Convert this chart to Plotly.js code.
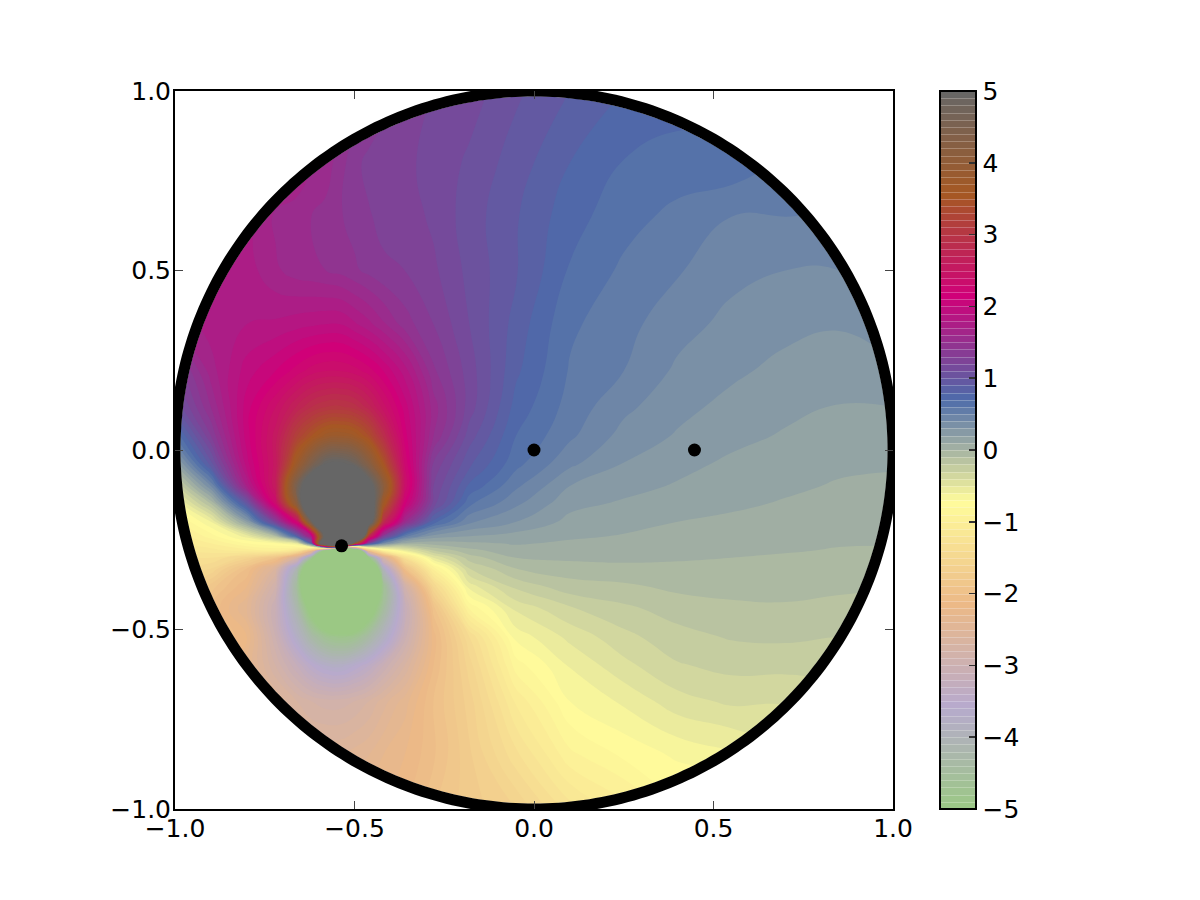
<!DOCTYPE html>
<html>
<head>
<meta charset="utf-8">
<script src="https://cdn.plot.ly/plotly-3.0.1.min.js"></script>
<style>html,body{margin:0;padding:0;background:#fff}</style>
</head>
<body>
<div id="chart" style="width:1200px;height:900px"></div>
<script>
const xNodes = [-1,-.9,-.8,-.72,-.66,-.62,-.58,-.54,-.5,-.46,-.42,-.36,-.28,-.18,-.05,.1,.25,.4,.55,.7,.85,1];
const yNodes = [-1,-.85,-.7,-.6,-.52,-.44,-.38,-.33,-.3,-.28,-.26,-.24,-.2,-.15,-.1,-.04,.04,.12,.22,.35,.5,.65,.8,1];
const fieldRows = [
[-2.3,-2.3,-2.3,-2.3,-2.3,-2.3,-2.3,-2.3,-2.3,-2.25,-2.2,-2.1,-1.9,-1.75,-1.6,-1.25,-1.05,-.85,-.85,-.7,-.5,-.45],
[-2.3,-2.4,-2.45,-2.5,-2.5,-2.5,-2.5,-2.5,-2.45,-2.4,-2.3,-2.2,-2.02,-1.72,-1.33,-.93,-.78,-.68,-.62,-.52,-.45,-.4],
[-1.9,-2,-2.2,-2.5,-2.7,-2.8,-2.85,-2.85,-2.8,-2.7,-2.55,-2.35,-2,-1.65,-1.08,-.7,-.58,-.44,-.38,-.39,-.35,-.35],
[-1.7,-1.9,-2.3,-2.8,-3.2,-3.5,-3.7,-3.75,-3.6,-3.4,-3.1,-2.7,-2.1,-1.55,-.85,-.59,-.43,-.31,-.27,-.27,-.27,-.27],
[-1.7,-1.9,-2.2,-3,-3.75,-4.3,-4.7,-4.85,-4.75,-4.35,-3.85,-3.05,-2.15,-1.4,-.66,-.47,-.33,-.235,-.19,-.18,-.2,-.2],
[-1.7,-2,-2.4,-3.1,-4.2,-5.3,-6.3,-6.76,-6.45,-5.5,-4.5,-3.2,-1.95,-.88,-.47,-.31,-.22,-.155,-.125,-.115,-.13,-.14],
[-1.6,-1.85,-2.2,-2.9,-4.5,-6.4,-8.9,-10.4,-9.4,-6.8,-4.7,-2.9,-1.5,-.55,-.27,-.14,-.12,-.075,-.06,-.06,-.08,-.09],
[-1.4,-1.5,-2,-2.6,-4.1,-6.2,-12,-12,-12,-6.9,-3.9,-2,-.95,-.3,-.1,-.05,-.025,-.02,-.02,-.03,-.05,-.06],
[-1.3,-1.3,-1.55,-1.9,-2.7,-4.6,-10,-12,-12,-5,-2.7,-1.3,-.5,-.15,0,.023,.023,.01,0,-.01,-.03,-.04],
[-1.2,-1.15,-1.05,-1,-1.2,-2,-5.5,-12,-7.5,-1.9,-.95,-.55,-.2,-.03,.06,.054,.047,.027,.015,.006,-.005,-.01],
[-1.15,-1,-.8,-.7,-.5,.8,7.9,12,3.9,1.1,.4,.05,.05,.08,.11,.085,.07,.045,.03,.02,.005,.005],
[-1.1,-.85,-.55,-.1,.85,1.8,5.5,12,9,2.9,1.3,.55,.25,.2,.16,.115,.094,.064,.046,.03,.016,.015],
[-.95,-.6,.2,1.25,2.3,4.8,9,12,10,5.6,2.9,1.55,.75,.42,.3,.17,.13,.1,.077,.058,.037,.03],
[-.7,-.1,.95,2.3,4.2,6.5,9,9.8,8.2,5.8,3.7,2.15,1.15,.62,.42,.23,.185,.15,.12,.09,.064,.055],
[-.35,.4,1.7,2.6,4.6,5.7,6.6,6.9,6.3,5.3,4.2,2.4,1.2,.78,.52,.3,.235,.19,.155,.12,.09,.08],
[.1,.95,1.95,2.55,3.8,4.5,5.05,5.12,4.9,4.3,3.55,2.3,1.28,.92,.63,.42,.294,.23,.18,.155,.12,.11],
[.6,1.3,2.05,2.55,3.2,3.5,3.75,3.8,3.7,3.4,2.9,2.15,1.5,1.05,.7,.52,.365,.29,.23,.19,.157,.14],
[1,1.5,2.05,2.4,2.72,2.9,3,3.02,2.95,2.75,2.45,2.05,1.55,1.15,.76,.56,.425,.33,.27,.225,.195,.2],
[1.2,1.65,1.95,2.1,2.25,2.35,2.4,2.4,2.35,2.25,2.1,1.85,1.42,1.15,.82,.59,.5,.38,.32,.27,.24,.28],
[1.6,1.75,1.8,1.82,1.86,1.88,1.9,1.9,1.82,1.73,1.62,1.45,1.3,1.1,.86,.62,.533,.44,.37,.33,.31,.38],
[1.7,1.75,1.75,1.62,1.55,1.53,1.5,1.47,1.42,1.37,1.32,1.3,1.22,1.07,.91,.69,.58,.51,.43,.4,.4,.5],
[1.8,1.8,1.75,1.58,1.54,1.5,1.47,1.41,1.36,1.31,1.27,1.25,1.18,1.05,.91,.74,.64,.57,.5,.5,.5,.55],
[1.7,1.7,1.7,1.7,1.7,1.6,1.55,1.45,1.33,1.27,1.24,1.22,1.17,1.08,.95,.8,.695,.66,.67,.6,.6,.6],
[1.6,1.6,1.6,1.6,1.6,1.6,1.58,1.55,1.5,1.42,1.35,1.28,1.2,1.15,1.02,.9,.8,.75,.75,.7,.7,.65]
];
// Colour ramp of the field as it appears in the colour bar (bottom to top)
const rampColors = ['#9bc884','#b7aacd','#ecb987','#fffc9b','#4d6baa','#d00078','#a55823','#666666'];
const colorStops = rampColors.map((c, i) => [i / (rampColors.length - 1), c]);
const barTicks = [-5,-4,-3,-2,-1,0,1,2,3,4,5];
const axisTicks = [-1,-.5,0,.5,1];
// The three marked points
const dotX = [0, .447, -.536];
const dotY = [0, 0, -.267];
// Unit circle outline
const turn = Array.from({length: 361}, (_, i) => i * Math.PI / 180);
const circleX = r => turn.map(t => r * Math.cos(t));
const circleY = r => turn.map(t => r * Math.sin(t));

const fontSpec = {family: 'DejaVu Sans', size: 25, color: '#000'};
const levels = {start: -5, end: 5, size: .1};
const axis = {
  range: [-1, 1], autorange: false, fixedrange: true,
  tickmode: 'array', tickvals: axisTicks, tickformat: '.1f',
  ticks: 'inside', ticklen: 8, tickwidth: 1, tickcolor: '#444',
  showgrid: false, zeroline: false, showline: true, linecolor: '#000', linewidth: 2,
  mirror: 'ticks', tickfont: fontSpec
};
const traces = [
  {type: 'contour', x: xNodes, y: yNodes, z: fieldRows, zmin: -5, zmax: 5, zauto: false,
   colorscale: colorStops, autocontour: false,
   contours: Object.assign({coloring: 'fill', showlines: false}, levels),
   line: {width: 0, smoothing: 1.3}, hoverinfo: 'skip', showscale: false},
  // off-axis trace: carries only the colour bar, whose level separators are pale
  {type: 'contour', x: [5, 6, 7], y: [5, 6, 7], z: [[-5, 0, 5], [-5, 0, 5], [-5, 0, 5]], zmin: -5, zmax: 5, zauto: false,
   colorscale: colorStops, autocontour: false,
   contours: Object.assign({coloring: 'fill', showlines: true}, levels),
   line: {width: 1, color: 'rgba(255,255,255,0.25)'}, hoverinfo: 'skip', showscale: true,
   colorbar: {x: (940 - 175) / 718, xanchor: 'left', xpad: 0, ypad: 0, y: .5, yanchor: 'middle',
     len: 1, lenmode: 'fraction', thickness: 36, thicknessmode: 'pixels',
     outlinewidth: 2, outlinecolor: '#000', ticks: 'inside', ticklen: 8, tickwidth: 1.5, tickcolor: '#333',
     tickmode: 'array', tickvals: barTicks, tickfont: fontSpec}},
  // white surround outside the disc
  {type: 'scatter', mode: 'lines', x: circleX(1.208), y: circleY(1.208), hoverinfo: 'skip',
   line: {color: '#fff', width: 160, simplify: false}, showlegend: false},
  // black rim
  {type: 'scatter', mode: 'lines', x: circleX(1), y: circleY(1), hoverinfo: 'skip',
   line: {color: '#000', width: 11, simplify: false}, showlegend: false},
  {type: 'scatter', mode: 'markers', x: dotX, y: dotY, hoverinfo: 'skip',
   marker: {color: '#000', size: 13}, showlegend: false}
];
const layout = {
  width: 1200, height: 900, autosize: false, showlegend: false,
  paper_bgcolor: '#fff', plot_bgcolor: '#fff',
  margin: {l: 175, r: 307, t: 91, b: 91, pad: 0},
  xaxis: Object.assign({}, axis, {ticklabelstandoff: -4}),
  yaxis: Object.assign({}, axis, {ticklabelstandoff: -3})
};
Plotly.newPlot('chart', traces, layout, {displayModeBar: false, staticPlot: true});
</script>
</body>
</html>
